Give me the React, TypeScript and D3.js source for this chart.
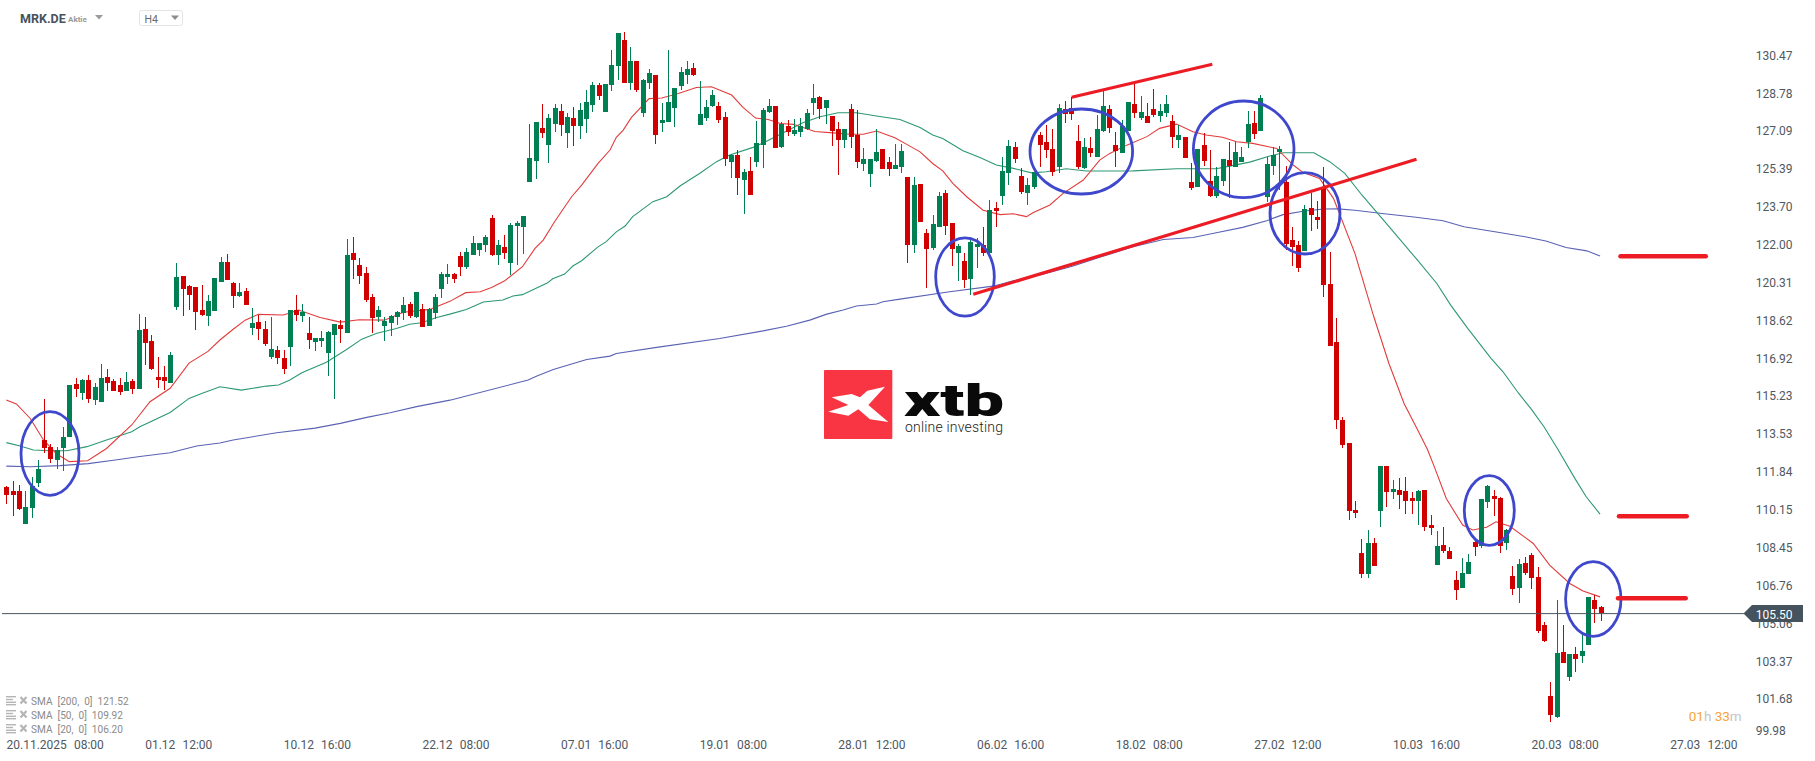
import * as d3 from "d3";
import React, { useRef, useEffect } from "react";

const width = 1815;
const height = 761;

// Candles, H4, oldest first
const opens = [
  111.16,110.97,110.97,109.51,110.22,111.34,113.27,112.95,112.37,112.91,
  113.40,115.77,115.37,115.95,115.06,114.97,116.08,115.91,115.73,115.46,
  115.91,115.55,118.23,117.69,116.08,116.08,115.82,119.21,120.60,120.15,
  120.11,119.08,118.81,119.04,120.33,121.23,120.29,119.71,119.93,118.27,
  118.54,118.23,116.98,117.29,116.93,117.42,119.08,118.81,118.05,117.65,
  117.69,117.16,117.96,118.41,118.05,121.63,121.09,120.74,119.66,118.77,
  118.36,118.50,118.77,118.95,119.35,118.77,119.12,118.36,118.95,120.02,
  120.56,120.69,121.50,121.00,121.54,121.76,121.99,123.20,121.54,121.90,
  121.18,122.84,122.79,124.81,125.75,127.22,126.46,127.40,127.98,127.00,
  127.67,127.31,127.63,128.25,129.15,127.94,129.15,130.00,131.16,129.24,
  130.22,127.89,129.24,129.59,127.45,127.49,128.12,129.10,129.59,129.91,
  127.36,127.67,128.21,128.21,127.72,125.70,126.02,124.90,125.30,125.70,
  126.46,127.94,128.21,126.37,127.31,126.95,127.04,127.18,128.34,128.61,
  128.12,127.76,127.18,126.69,128.07,126.91,125.61,125.17,125.75,126.28,
  125.70,125.39,125.48,125.03,121.99,124.72,122.52,121.86,122.79,124.31,
  122.97,121.63,121.27,120.47,121.90,121.99,121.63,123.64,124.18,125.21,
  126.37,125.08,124.31,124.58,126.91,126.60,126.28,125.48,128.07,128.12,
  126.64,125.43,126.33,125.93,127.09,128.07,126.46,126.10,127.09,128.30,
  127.67,127.76,128.07,127.76,127.89,127.54,126.69,126.82,124.81,124.58,
  126.46,124.85,124.18,124.85,125.79,125.48,125.70,126.60,127.45,127.09,
  124.14,125.52,126.15,124.81,122.21,121.99,121.72,123.64,123.24,124.60,
  120.24,117.65,114.16,113.13,110.13,108.21,107.27,108.65,110.09,112.10,
  110.94,111.03,110.98,110.67,110.53,111.03,109.46,107.67,108.57,108.30,
  107.00,106.64,107.27,108.70,108.52,110.49,110.76,110.67,108.65,107.18,
  106.64,107.76,108.12,107.13,104.99,101.81,100.87,103.78,102.66,103.69,
  103.60,104.09,106.10,105.79,
];
const highs = [
  111.21,111.43,111.25,110.98,111.60,112.37,115.10,113.09,112.95,113.85,
  115.73,116.02,116.00,116.17,115.80,116.66,116.44,115.99,116.04,116.31,
  115.99,118.90,118.77,117.96,116.98,116.57,117.20,121.18,120.60,120.20,
  120.11,120.20,119.75,120.51,121.45,121.59,120.33,120.29,120.06,119.17,
  118.86,118.59,118.77,117.47,117.29,119.08,119.75,119.35,118.77,117.83,
  118.14,118.14,118.45,118.63,122.26,122.35,121.41,121.00,119.80,119.26,
  118.77,118.86,119.04,119.66,119.44,119.88,119.35,119.17,119.80,120.78,
  121.14,120.74,121.68,121.85,122.39,122.08,122.44,123.33,122.21,122.44,
  122.97,123.06,123.29,127.40,127.49,128.30,127.85,128.30,128.30,127.89,
  128.16,128.34,128.92,129.28,129.24,129.19,130.71,131.47,131.52,130.85,
  130.22,129.42,129.86,129.59,128.34,130.71,129.01,129.95,130.22,130.13,
  129.33,128.48,128.92,128.39,127.94,126.06,126.24,125.39,125.93,127.54,
  128.12,128.52,128.21,127.49,127.58,127.63,127.67,128.07,129.19,128.65,
  128.48,127.76,127.49,127.18,128.30,128.03,126.33,125.84,127.18,126.28,
  125.93,126.51,126.51,125.03,125.03,124.72,122.70,123.33,124.36,124.45,
  122.97,122.03,121.63,122.35,122.30,122.79,124.00,123.91,125.93,126.69,
  126.60,125.43,124.99,125.25,127.04,127.36,127.18,128.30,128.43,128.61,
  127.36,126.78,126.82,127.80,128.88,128.25,127.04,127.58,128.39,129.24,
  128.65,128.34,128.97,128.30,128.70,127.80,127.36,126.82,125.66,126.28,
  127.00,126.24,125.48,125.84,126.60,126.60,126.37,127.98,127.98,128.70,
  125.93,126.37,126.42,125.52,122.79,122.17,123.78,124.31,123.96,125.48,
  121.68,118.72,114.31,113.13,110.53,108.83,109.24,108.88,112.10,112.10,
  111.47,111.56,111.61,110.94,111.03,111.03,109.91,109.19,109.37,108.48,
  107.40,107.98,108.16,108.79,110.62,111.25,111.03,110.71,109.28,107.63,
  107.94,108.03,108.21,107.58,105.12,102.44,106.10,104.99,103.69,104.00,
  104.58,106.24,106.33,105.84,
];
const lows = [
  110.40,109.87,110.13,109.51,109.78,111.16,112.68,112.24,111.97,111.88,
  113.40,115.19,115.06,114.92,114.83,114.97,115.46,115.46,115.28,115.46,
  115.32,115.55,116.62,116.40,115.59,115.50,115.82,119.08,118.81,119.08,
  118.18,118.81,118.36,119.04,120.33,120.42,119.17,119.66,119.30,117.96,
  117.74,117.47,116.89,116.66,116.22,116.57,118.59,118.54,117.33,117.25,
  117.42,116.13,115.10,117.60,118.05,120.47,120.24,119.44,118.05,118.54,
  117.69,117.92,118.41,118.63,118.72,118.72,118.32,118.36,118.68,119.62,
  120.24,120.29,120.60,120.91,121.54,121.50,121.68,121.50,121.09,121.36,
  120.65,121.09,121.59,124.81,124.94,126.78,125.66,127.04,126.87,126.33,
  126.42,126.73,127.00,127.94,128.48,127.94,128.88,129.37,129.24,128.92,
  128.83,127.72,128.97,126.51,127.04,127.49,127.27,128.92,129.19,129.55,
  127.36,127.54,128.16,127.45,125.52,124.99,124.23,123.37,124.23,125.48,
  125.43,127.89,126.33,126.33,126.87,126.87,126.82,127.13,127.80,127.63,
  127.40,126.42,125.12,126.33,126.33,125.43,125.30,124.58,125.70,125.39,
  125.08,125.39,125.21,121.18,121.63,123.02,120.06,121.76,122.79,122.44,
  121.05,120.38,120.06,119.75,120.96,121.50,121.63,122.79,123.78,124.67,
  125.66,124.27,123.78,124.49,125.48,125.88,125.08,125.21,127.45,127.58,
  125.39,125.39,125.93,125.93,127.04,127.00,125.48,126.10,127.09,127.67,
  127.58,127.45,127.72,127.49,127.72,126.33,126.33,125.88,124.45,124.58,
  125.52,124.14,124.09,124.63,124.09,125.48,125.70,126.33,126.73,127.09,
  123.91,125.12,124.45,121.76,121.05,120.78,121.72,122.61,122.70,119.66,
  117.47,113.76,112.90,109.68,109.77,107.09,107.09,107.62,109.37,110.27,
  110.62,110.18,109.95,109.95,109.46,109.19,109.01,107.67,108.21,107.94,
  106.10,106.64,107.27,108.07,108.43,110.22,109.86,108.21,108.34,106.33,
  105.97,107.22,106.60,104.63,104.23,100.65,100.82,103.29,102.48,102.88,
  103.29,104.09,105.07,105.16,
];
const closes = [
  110.80,110.80,110.16,110.27,111.21,111.97,112.91,112.42,112.82,113.40,
  115.73,115.55,115.95,115.10,115.64,116.04,115.83,115.46,115.41,115.86,
  115.55,118.18,117.60,116.44,115.95,115.91,117.07,120.56,120.02,119.75,
  118.99,118.86,119.48,120.51,121.23,120.42,119.71,119.88,119.30,118.50,
  118.23,117.56,117.33,116.93,116.44,119.08,118.86,118.99,117.74,117.83,
  117.83,118.10,118.45,118.23,121.54,121.32,120.60,119.53,118.72,119.08,
  118.59,118.81,118.99,119.30,118.81,119.88,118.32,119.12,119.66,120.69,
  120.69,120.47,121.00,121.68,122.08,122.08,122.35,121.54,121.99,121.63,
  122.88,122.97,123.29,125.88,127.49,127.00,127.67,128.12,127.36,127.72,
  127.31,128.03,128.39,129.15,128.65,129.19,130.04,131.47,129.24,130.22,
  128.92,129.37,129.68,126.91,127.58,128.39,129.01,129.73,129.86,129.59,
  127.85,128.16,128.70,127.58,125.84,126.02,124.99,125.25,124.23,126.55,
  128.03,128.21,126.33,127.40,127.04,127.13,127.31,127.89,128.57,128.07,
  128.48,127.09,126.69,127.18,126.82,125.70,125.84,125.84,126.15,125.39,
  125.39,125.57,126.19,121.99,124.67,123.02,121.81,122.93,124.18,122.84,
  121.81,121.94,120.42,122.12,122.03,121.63,123.55,123.51,125.30,126.42,
  125.84,124.36,124.67,125.25,126.46,126.24,125.25,128.12,127.85,127.85,
  125.48,126.37,126.10,127.18,128.21,127.22,126.19,127.31,128.39,127.89,
  127.94,127.45,127.80,127.98,128.30,126.82,126.91,125.88,124.54,126.28,
  125.75,124.18,125.08,125.84,125.52,126.15,125.93,127.40,126.95,128.56,
  125.61,126.00,126.28,122.03,121.90,120.96,123.60,123.33,123.11,120.20,
  117.47,114.16,113.04,110.09,110.00,107.27,108.65,107.62,112.10,110.94,
  111.07,110.80,110.53,110.53,110.98,109.37,109.33,108.52,108.30,107.94,
  106.55,107.31,107.80,108.48,110.62,111.20,110.62,108.52,109.24,106.60,
  107.71,107.31,107.09,104.72,104.27,100.96,103.73,103.29,103.69,103.46,
  103.82,106.24,105.70,105.52,
];

// Moving averages at the bars where they bend
const sma20Bars = [
  0,1.6,3.8,5.9,8,10,12.9,15.9,19.9,22.8,26,29,32,33.9,36,37.9,40,44,46.4,49.8,53,56,60,63,67.2,70.4,
  72.9,75.2,77,79.1,81.9,83.9,85.2,87,89.7,91.3,93.9,95.8,96.8,97.9,99.2,102,104,106.4,109.5,111.9,115.1,116.9,118.9,120.9,122.8,124.9,128.3,131.2,133.9,136,138.1,141,
  143.1,145,147,148.6,150.2,152.4,155,157.7,159.8,161.9,162.9,165.6,167.7,170.9,173.5,175.1,177.8,181,183,185.7,188.3,190.4,193,195.2,197.8,201.6,204.2,205.8,208.4,210.6,
  214,217,219.4,221.8,223.7,225.5,226.7,228.5,231.1,232.7,234.9,236.4,238.6,242.3,244.9,248.1,250.2,252.9,
];
const sma20Values = [
  115.06,114.88,114.23,113.27,112.64,112.30,112.34,112.89,113.94,114.98,115.58,116.71,117.23,117.74,118.22,118.63,118.89,118.86,119.08,118.75,118.54,118.65,118.63,118.98,119.11,119.47,
  119.86,119.90,120.09,120.39,121.02,121.84,122.21,123.03,124.15,124.67,125.64,126.24,126.81,127.13,127.70,128.54,128.57,128.75,129.04,129.07,128.70,128.15,127.67,127.61,127.43,127.39,127.07,127.01,126.95,126.95,127.09,126.79,
  126.46,126.16,125.64,125.31,124.75,124.15,123.55,123.35,123.39,123.26,123.43,123.78,124.30,124.90,125.79,126.09,126.46,126.84,127.21,127.40,127.06,126.91,126.81,126.61,126.54,126.31,125.57,125.23,124.97,124.08,
  121.62,118.78,116.69,114.90,113.86,112.85,112.00,110.65,109.46,109.24,109.36,109.61,109.41,108.64,107.67,106.85,106.51,106.25,
];
const sma50Bars = [
  0,2.2,4.3,6.9,9.6,12.8,15.9,19.9,21.2,26,29,31,33.9,37.3,41.3,43.2,45,46.9,50.8,54,56.4,58.8,61.9,64,65.9,68.3,70.4,
  73,75.7,78.8,80.4,81.9,85.9,86.7,88.6,89.9,91.3,93.9,95.2,96.8,98.2,99.4,102.6,104.8,106.9,110,112.7,114.8,118.5,120,123.3,126.4,129.1,132,134.9,138.1,141.8,
  145,147,148.6,151.8,154.5,157.1,159.8,162.7,165,168.2,171.4,178.8,185.7,192,194.1,197.3,200.5,202.6,207.5,
  210,212.4,215.1,218.3,221,223.7,227,229.2,231.9,235.6,237.5,240,241.9,244,246.2,248.9,250.7,252.9,
];
const sma50Values = [
  113.15,113.00,112.82,112.79,112.79,112.97,113.27,113.64,113.86,114.50,115.13,115.35,115.65,115.50,115.68,115.73,115.95,116.28,116.75,117.32,117.78,118.04,118.26,118.45,118.51,118.75,118.90,
  119.11,119.44,119.53,119.71,119.77,120.30,120.48,120.69,121.05,121.29,121.91,122.14,122.58,122.84,123.26,123.93,124.15,124.63,125.19,125.72,126.02,126.36,126.54,127.01,127.46,127.73,127.91,127.91,127.76,127.61,
  127.25,126.91,126.76,126.21,125.91,125.57,125.42,125.22,125.27,125.40,125.30,125.31,125.40,125.40,125.52,125.70,125.97,126.12,126.12,
  125.72,125.20,124.23,123.18,122.29,121.39,120.27,119.30,118.26,116.92,116.32,115.35,114.68,113.86,112.85,111.55,110.73,109.95,
];
const sma200Bars = [
  0,3.8,8.5,13,17,21.2,26,30.2,33.9,36,42.9,49,53,57.2,60.9,65.1,70.4,
  82.8,84.2,86.8,92.1,95.8,96.8,103.2,113.2,120.1,123.8,127.5,130.2,132.8,134.9,138.1,139.1,141.8,
  149.7,156.6,159.8,164.5,169.3,173.5,178.8,183.6,188.3,192,196.2,200,202.6,205.8,209,211.3,
  214,218.3,223.7,228,231.3,236.7,241,244.3,247.5,250.8,252.9,
];
const sma200Values = [
  112.10,112.07,112.12,112.21,112.36,112.53,112.70,113.00,113.13,113.27,113.59,113.80,114.01,114.28,114.49,114.76,115.05,
  115.95,116.13,116.42,116.87,117.02,117.14,117.41,117.81,118.15,118.36,118.63,118.90,119.08,119.26,119.35,119.45,119.57,
  119.90,120.15,120.39,120.69,121.05,121.44,121.91,122.24,122.33,122.54,122.78,123.08,123.35,123.50,123.60,123.61,
  123.55,123.40,123.23,123.08,122.81,122.56,122.36,122.17,121.88,121.73,121.50,
];

const priceTicks = [130.47,128.78,127.09,125.39,123.7,122,120.31,118.62,116.92,115.23,113.53,111.84,110.15,108.45,106.76,105.06,103.37,101.68,99.98];
const timeLabels = ["20.11.2025  08:00","01.12  12:00","10.12  16:00","22.12  08:00","07.01  16:00","19.01  08:00","28.01  12:00","06.02  16:00","18.02  08:00","27.02  12:00","10.03  16:00","20.03  08:00","27.03  12:00"];
const legendLines = ["SMA  [200,  0]  121.52","SMA  [50,  0]  109.92","SMA  [20,  0]  106.20"];
const lastPrice = 105.5;

// Hand drawn markings on the chart, in screen pixels
const circles = [
  [50,453.5,29,41.8],[965,277,29.3,39.2],[1081.3,151.5,51.3,42.5],[1243.7,149.3,50.3,48.3],
  [1305,213.3,35,40.7],[1489.3,510.5,25,34.8],[1593.3,599,27.7,37.3],
];
const trendLines = [
  [973.3,294.3,1416.5,159.3],[1071.7,97.3,1212.3,64.3],
];
const levelLines = [
  [1620.5,1705.8,256.3],[1619,1686.7,516.3],[1618,1685.7,598.3],
];

const UP = "#007f52";
const DOWN = "#d10000";
const TEXT = "#50585f";
const FONT = "Roboto, sans-serif";

export default function App() {
  const ref = useRef<SVGSVGElement>(null);

  useEffect(() => {
    document.body.style.margin = "0";
    const svg = d3.select(ref.current);
    svg.selectAll("*").remove();

    const x = d3.scaleLinear().domain([0, 264]).range([6.3, 1670]);
    const y = d3.scaleLinear().domain([99.98, 130.47]).range([737, 55.5]);

    // Y axis
    const yAxis = svg
      .append("g")
      .attr("transform", "translate(1755.7,0)")
      .call(d3.axisRight(y).tickValues(priceTicks).tickSize(0).tickPadding(0).tickFormat((d: any) => d3.format(".2f")(d)));
    yAxis.select(".domain").remove();
    yAxis.selectAll("text").attr("fill", TEXT).style("font", `12px ${FONT}`);
    // lowest label is pushed up so it stays inside the plot
    yAxis.selectAll(".tick").filter((d: any) => d === 99.98).attr("transform", "translate(0,731.5)");

    // X axis
    const xAxis = svg
      .append("g")
      .attr("transform", "translate(-0.3,744.5)")
      .call(
        d3.axisBottom(x)
          .tickValues(timeLabels.map((_, i) => i * 22))
          .tickSize(0)
          .tickPadding(0)
          .tickFormat((_: any, i: number) => timeLabels[i])
      );
    xAxis.select(".domain").remove();
    xAxis
      .selectAll("text")
      .attr("fill", TEXT)
      .attr("text-anchor", "start")
      .attr("y", 0)
      .attr("dy", "0.35em")
      .style("font", `12px ${FONT}`)
      .style("word-spacing", "0.6px")
      .style("white-space", "pre");

    // Watermark logo
    const logo = svg.append("g").attr("transform", "translate(780,350) scale(0.3333)");
    logo.append("rect").attr("x", 132).attr("y", 60).attr("width", 205).attr("height", 207).attr("rx", 3).attr("fill", "#f93543");
    logo
      .append("path")
      .attr("d", "M155,142 L215,132 L240,142 L262,122 L315,110 L265,165 L325,216 L270,208 L235,178 L205,197 L145,185 L205,165 Z")
      .attr("fill", "#fff");
    svg
      .append("text")
      .attr("x", 904)
      .attr("y", 415.7)
      .attr("textLength", 100)
      .attr("lengthAdjust", "spacingAndGlyphs")
      .attr("fill", "#0a0a0a")
      .style("font", `900 45px ${FONT}`)
      .text("xtb");
    svg
      .append("text")
      .attr("x", 905)
      .attr("y", 432.3)
      .attr("textLength", 98)
      .attr("lengthAdjust", "spacing")
      .attr("fill", "#222")
      .style("font", `300 14px ${FONT}`)
      .text("online investing");

    // Moving averages
    const drawLine = (bars: number[], values: number[], color: string) => {
      const line = d3
        .line<number>()
        .x((d) => x(d))
        .y((_, i) => y(values[i]));
      svg.append("path").attr("d", line(bars)).attr("fill", "none").attr("stroke", color).attr("stroke-width", 1.1);
    };
    drawLine(sma200Bars, sma200Values, "#5a62b4");
    drawLine(sma50Bars, sma50Values, "#2d9872");
    drawLine(sma20Bars, sma20Values, "#e23c3c");

    // Candles
    const candles = svg.append("g").attr("shape-rendering", "crispEdges");
    const bars = candles.selectAll("g").data(opens).join("g");
    bars
      .append("rect")
      .attr("x", (_, i) => Math.round(x(i)))
      .attr("width", 1)
      .attr("y", (_, i) => y(highs[i]))
      .attr("height", (_, i) => y(lows[i]) - y(highs[i]))
      .attr("fill", (_, i) => (closes[i] >= opens[i] ? UP : DOWN));
    bars
      .append("rect")
      .attr("x", (_, i) => Math.round(x(i)) - 2)
      .attr("width", 5)
      .attr("y", (_, i) => y(Math.max(opens[i], closes[i])))
      .attr("height", (_, i) => Math.max(1, Math.abs(y(opens[i]) - y(closes[i]))))
      .attr("fill", (_, i) => (closes[i] >= opens[i] ? UP : DOWN));

    // Last price line and tag
    const py = y(lastPrice);
    svg.append("line").attr("x1", 2).attr("x2", 1744).attr("y1", py).attr("y2", py).attr("stroke", "#4a555e").attr("stroke-width", 1);
    svg
      .append("path")
      .attr("d", `M1743.5,${py} L1752,${py - 8.5} L1803,${py - 8.5} L1803,${py + 8.5} L1752,${py + 8.5} Z`)
      .attr("fill", "#44535e");
    svg
      .append("text")
      .attr("x", 1755.7)
      .attr("y", py + 1)
      .attr("dy", "0.35em")
      .attr("fill", "#fff")
      .style("font", `12px ${FONT}`)
      .text(d3.format(".2f")(lastPrice));

    // Markings
    svg
      .selectAll(".mark-circle")
      .data(circles)
      .join("ellipse")
      .attr("class", "mark-circle")
      .attr("cx", (d) => d[0])
      .attr("cy", (d) => d[1])
      .attr("rx", (d) => d[2])
      .attr("ry", (d) => d[3])
      .attr("fill", "none")
      .attr("stroke", "#3f48cc")
      .attr("stroke-width", 2.8);
    svg
      .selectAll(".mark-trend")
      .data(trendLines)
      .join("line")
      .attr("class", "mark-trend")
      .attr("x1", (d) => d[0])
      .attr("y1", (d) => d[1])
      .attr("x2", (d) => d[2])
      .attr("y2", (d) => d[3])
      .attr("stroke", "#ed1c24")
      .attr("stroke-width", 3.2);
    svg
      .selectAll(".mark-level")
      .data(levelLines)
      .join("line")
      .attr("class", "mark-level")
      .attr("x1", (d) => d[0])
      .attr("x2", (d) => d[1])
      .attr("y1", (d) => d[2])
      .attr("y2", (d) => d[2])
      .attr("stroke", "#ed1c24")
      .attr("stroke-width", 4.5)
      .attr("stroke-linecap", "round");

    // Legend
    legendLines.forEach((label, i) => {
      const ly = 701 + i * 14;
      const g = svg.append("g").attr("transform", `translate(0,${ly})`);
      [-5, -2.2, 0.6, 3].forEach((dy, k) => {
        g.append("rect").attr("x", 6).attr("y", dy).attr("width", k === 1 ? 7 : 10).attr("height", 1.4).attr("fill", "#b5b5b5");
      });
      g.append("path").attr("d", "M20.5,-4 L26.5,2.5 M26.5,-4 L20.5,2.5").attr("stroke", "#b5b5b5").attr("stroke-width", 2.2);
      g.append("text")
        .attr("x", 31)
        .attr("y", 0)
        .attr("dy", "0.35em")
        .attr("fill", "#8a8a8a")
        .style("font", `10.1px ${FONT}`)
        .style("white-space", "pre")
        .text(label);
    });

    // Header
    svg.append("text").attr("x", 20).attr("y", 18.5).attr("dy", "0.35em").attr("fill", "#46525c").style("font", `700 12.5px ${FONT}`).text("MRK.DE");
    svg.append("text").attr("x", 68).attr("y", 19).attr("dy", "0.35em").attr("fill", "#9a9a9a").style("font", `700 8px ${FONT}`).text("Aktie");
    svg.append("path").attr("d", "M95,15 L103,15 L99,19.5 Z").attr("fill", "#9a9a9a");
    svg.append("rect").attr("x", 139.5).attr("y", 10.5).attr("width", 43).attr("height", 15).attr("rx", 2).attr("fill", "#fff").attr("stroke", "#e4e4e4");
    svg.append("text").attr("x", 144.5).attr("y", 19.5).attr("dy", "0.35em").attr("fill", "#6a6a6a").style("font", `10.5px ${FONT}`).text("H4");
    svg.append("path").attr("d", "M171,15.5 L179,15.5 L175,20 Z").attr("fill", "#8c8c8c");

    // Candle countdown
    const timer = svg.append("text").attr("x", 1688.7).attr("y", 716).attr("dy", "0.35em").style("font", `13.5px ${FONT}`).style("white-space", "pre");
    timer.append("tspan").attr("fill", "#f7a33a").text("01");
    timer.append("tspan").attr("fill", "#c4c4c4").text("h ");
    timer.append("tspan").attr("fill", "#f7a33a").text("33");
    timer.append("tspan").attr("fill", "#c4c4c4").text("m");
  }, []);

  return <svg ref={ref} width={width} height={height} viewBox={`0 0 ${width} ${height}`} style={{ display: "block", background: "#fff" }} />;
}
